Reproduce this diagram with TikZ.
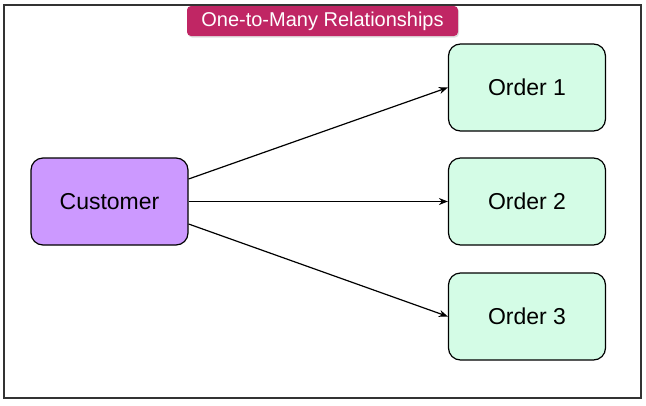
\documentclass[tikz,border=0pt]{standalone}
\usepackage{fontspec}
\setmainfont{Liberation Sans}
\usetikzlibrary{arrows.meta,shadows}
\definecolor{titlered}{RGB}{192,38,100}
\definecolor{custpurple}{RGB}{204,153,255}
\definecolor{ordergreen}{RGB}{212,252,230}
\tikzset{
  entity/.style={draw=black,line width=1.2pt,rounded corners=12pt,minimum width=157pt,minimum height=87pt,font=\fontsize{23}{27}\selectfont},
  link/.style={line width=1.2pt,-{Stealth[length=9pt,width=7pt]}}
}
\begin{document}
\begin{tikzpicture}[x=1pt,y=-1pt]
        \useasboundingbox (0,0) rectangle (646,405);
        \draw[line width=1.5pt,black!80] (4,5) rectangle (641,398);
        \node[fill=titlered,text=white,rounded corners=4pt,minimum width=271pt,minimum height=30pt,font=\fontsize{20}{24}\selectfont,drop shadow={opacity=0.25,shadow xshift=1pt,shadow yshift=-1.5pt}] (title) at (322.5,21) {One-to-Many Relationships};
        \node[entity,fill=custpurple] (customer) at (109.5,201.5) {Customer};
        \node[entity,fill=ordergreen] (order1) at (527,87.5) {Order 1};
        \node[entity,fill=ordergreen] (order2) at (527,201.5) {Order 2};
        \node[entity,fill=ordergreen] (order3) at (527,316.5) {Order 3};
        \draw[link] ([yshift=22.5pt]customer.east) -- (order1.west);
        \draw[link] (customer.east) -- (order2.west);
        \draw[link] ([yshift=-22.5pt]customer.east) -- (order3.west);
    \end{tikzpicture}
\end{document}
